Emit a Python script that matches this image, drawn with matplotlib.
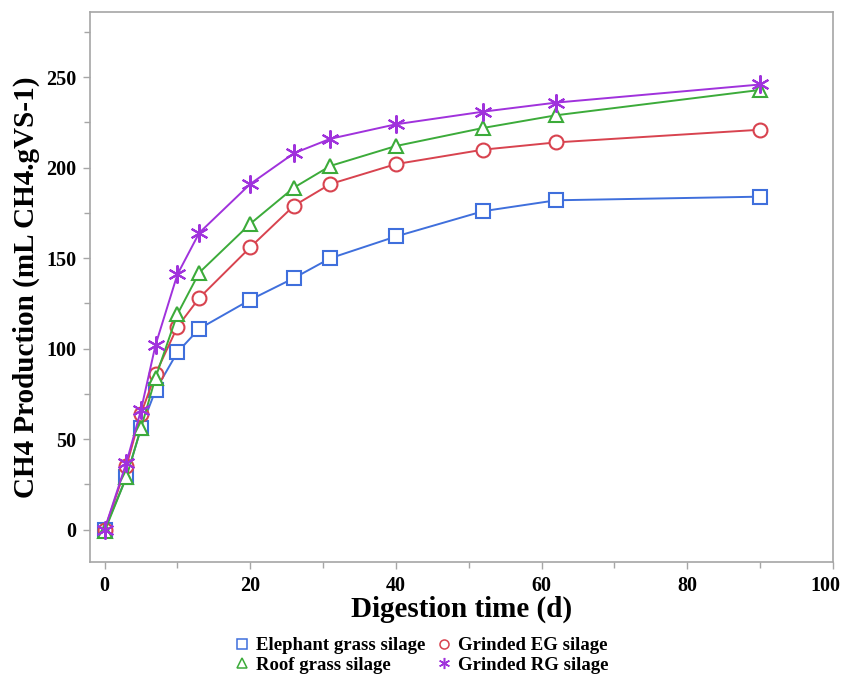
import matplotlib
matplotlib.use("Agg")
import matplotlib.pyplot as plt
import matplotlib.transforms as mtransforms
from matplotlib.lines import Line2D
from matplotlib.ticker import MultipleLocator

# digestion days
days = [0, 3, 5, 7, 10, 13, 20, 26, 31, 40, 52, 62, 90]

# cumulative CH4 (mL CH4/gVS)
elephant = [0, 29, 56, 77, 98, 111, 127, 139, 150, 162, 176, 182, 184]
grinded_eg = [0, 35, 64, 86, 112, 128, 156, 179, 191, 202, 210, 214, 221]
roof = [-1, 29, 56, 84, 119, 142, 169, 189, 201, 212, 222, 229, 243]
grinded_rg = [0, 37, 66, 102, 141, 164, 191, 208, 216, 224, 231, 236, 246]

names = ["Elephant grass silage", "Grinded EG silage", "Roof grass silage", "Grinded RG silage"]
colors = ["#3f6fdc", "#d8434f", "#3cab3a", "#a032dc"]
markers = ["s", "o", "^", (6, 2, 0)]
series = [elephant, grinded_eg, roof, grinded_rg]

plt.rcParams['font.family'] = ['Liberation Serif', 'DejaVu Serif']
plt.rcParams['font.weight'] = 'bold'

fig = plt.figure(figsize=(8.44, 6.74), dpi=100)
ax = fig.add_axes([0.1066, 0.166, 0.8804, 0.816])

for y, c, m, n in zip(series, colors, markers, names):
    if m == (6, 2, 0):
        ax.plot(days, y, color=c, lw=1.4, marker=m, ms=13, mew=1.5, label=n, zorder=3)
    else:
        ax.plot(days, y, color=c, lw=1.4, marker=m, ms=10, mfc='white', mec=c,
                mew=1.5, label=n, zorder=3)

ax.set_xlim(-2, 100)
ax.set_ylim(-18, 286)
ax.xaxis.set_major_locator(MultipleLocator(20))
ax.xaxis.set_minor_locator(MultipleLocator(10))
ax.yaxis.set_major_locator(MultipleLocator(50))
ax.yaxis.set_minor_locator(MultipleLocator(25))

for s in ax.spines.values():
    s.set_color('#a6a6a6')
    s.set_linewidth(1.2)
ax.tick_params(which='both', direction='out', color='#a6a6a6', width=1)
ax.tick_params(which='major', length=5, labelsize=14.5, pad=5)
ax.tick_params(which='minor', length=4)
for lab in ax.get_xticklabels() + ax.get_yticklabels():
    lab.set_fontweight('bold')

# the "100" label sits against the right edge, nudge it left
fig.canvas.draw()
for t in ax.get_xticklabels():
    if t.get_text() == '100':
        t.set_transform(t.get_transform() + mtransforms.ScaledTranslation(-8 / 100, 0, fig.dpi_scale_trans))

ax.set_xlabel("Digestion time (d)", fontsize=21, fontweight='bold', labelpad=0)
ax.set_ylabel("CH4 Production (mL CH4.gVS-1)", fontsize=21, fontweight='bold', labelpad=4)

# legend: markers only, two columns (filled column-wise)
order = [0, 2, 1, 3]
handles = []
for i in order:
    c, m, n = colors[i], markers[i], names[i]
    if m == (6, 2, 0):
        handles.append(Line2D([], [], ls='none', marker=m, ms=8, color=c, mew=1.1, label=n))
    else:
        handles.append(Line2D([], [], ls='none', marker=m, ms=6.5, mfc='white', mec=c,
                              mew=1.1, label=n))
leg = ax.legend(handles=handles, ncol=2, loc='upper center', bbox_to_anchor=(0.447, -0.106),
                frameon=False, prop={'size': 13.5, 'weight': 'bold'}, handlelength=0.6,
                handletextpad=0.45, columnspacing=0.7, labelspacing=0.12)

fig.savefig("out.png", dpi=100)
